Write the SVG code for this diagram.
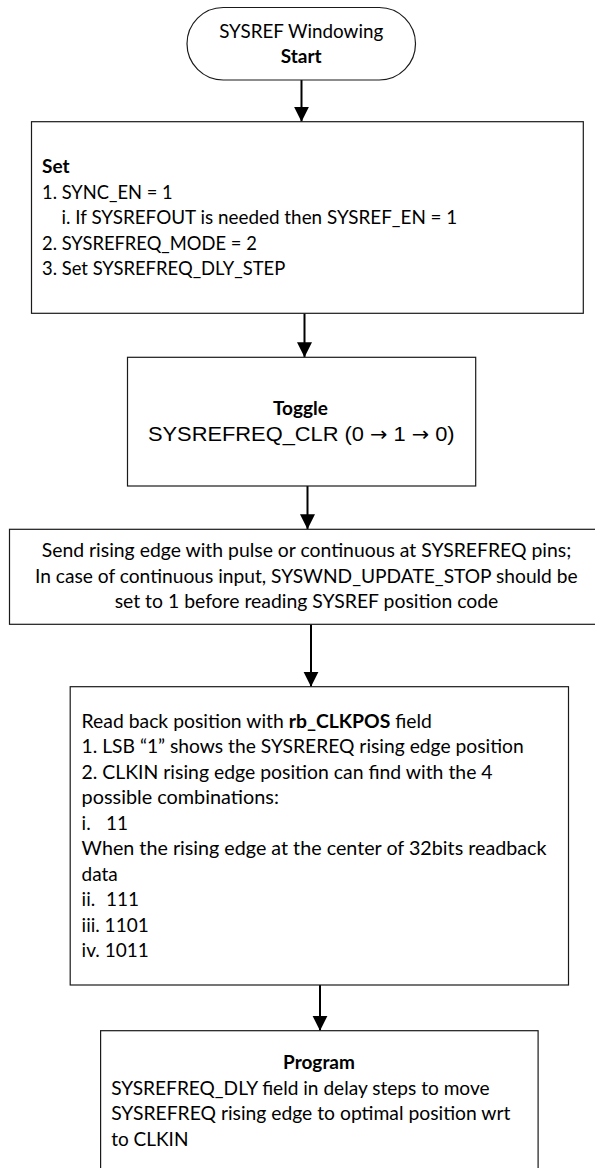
<svg xmlns="http://www.w3.org/2000/svg" width="595" height="1168" viewBox="0 0 595 1168">
<style>
.bg{fill:#fff}
.box{fill:#fff;stroke:#1a1a1a;stroke-width:1.2}
.t{font-family:Lato,"Open Sans","Liberation Sans",sans-serif;font-size:19px;fill:#000}
.b{font-weight:bold}
.c{text-anchor:middle}
.a{font-family:"Liberation Sans",Arial,sans-serif;font-size:21px;fill:#000}
.arr{font-family:"DejaVu Sans",sans-serif;font-size:20px}
.conn{stroke:#000;stroke-width:2;fill:none;marker-end:url(#ah)}
</style>
<defs>
<marker id="ah" markerUnits="userSpaceOnUse" markerWidth="16" markerHeight="16" refX="15" refY="7.5" orient="auto" viewBox="0 0 16 15">
<path d="M0,0 L15,7.5 L0,15 z" fill="#000"/>
</marker>
</defs>
<rect class="bg" x="0" y="0" width="595" height="1168"/>
<g id="connectors">
<line class="conn" x1="301.5" y1="80" x2="301.5" y2="121.7"/>
<line class="conn" x1="304.5" y1="313.3" x2="304.5" y2="357.3"/>
<line class="conn" x1="307.5" y1="486" x2="307.5" y2="529.3"/>
<line class="conn" x1="311" y1="624.3" x2="311" y2="686.7"/>
<line class="conn" x1="320" y1="985" x2="320" y2="1030.7"/>
</g>
<g id="start">
<rect class="box" x="187" y="7.5" width="228.5" height="72.5" rx="36.25"/>
<text class="t c" x="301.2" y="38.3" textLength="164" lengthAdjust="spacingAndGlyphs">SYSREF Windowing</text>
<text class="t b c" x="301.2" y="62.7">Start</text>
</g>
<g id="set">
<rect class="box" x="31.5" y="121.7" width="551.8" height="191.6"/>
<text class="t b" x="42" y="173">Set</text>
<text class="t" x="42" y="198.5" textLength="130.6" lengthAdjust="spacingAndGlyphs">1. SYNC_EN = 1</text>
<text class="t" x="61.5" y="224" textLength="395.8" lengthAdjust="spacingAndGlyphs">i. If SYSREFOUT is needed then SYSREF_EN = 1</text>
<text class="t" x="42" y="249.5" textLength="214.8" lengthAdjust="spacingAndGlyphs">2. SYSREFREQ_MODE = 2</text>
<text class="t" x="42" y="275" textLength="243.3" lengthAdjust="spacingAndGlyphs">3. Set SYSREFREQ_DLY_STEP</text>
</g>
<g id="toggle">
<rect class="box" x="127.5" y="357.3" width="348.2" height="128.7"/>
<text class="t b c" x="300.4" y="415">Toggle</text>
<text class="a c" x="301.3" y="440.7" textLength="306.6" lengthAdjust="spacingAndGlyphs">SYSREFREQ_CLR (0 <tspan class="arr">→</tspan> 1 <tspan class="arr">→</tspan> 0)</text>
</g>
<g id="send">
<rect class="box" x="9.5" y="529.3" width="600" height="95"/>
<text class="t c" x="306.5" y="557.3" textLength="529.5" lengthAdjust="spacingAndGlyphs">Send rising edge with pulse or continuous at SYSREFREQ pins;</text>
<text class="t c" x="306.3" y="582.5" textLength="542.7" lengthAdjust="spacingAndGlyphs">In case of continuous input, SYSWND_UPDATE_STOP should be</text>
<text class="t c" x="306.5" y="607.5" textLength="383.7" lengthAdjust="spacingAndGlyphs">set to 1 before reading SYSREF position code</text>
</g>
<g id="readback">
<rect class="box" x="70.2" y="686.7" width="498.3" height="298.3"/>
<text class="t" x="81.6" y="727.5" textLength="350.3" lengthAdjust="spacingAndGlyphs">Read back position with <tspan class="b">rb_CLKPOS</tspan> field</text>
<text class="t" x="81.6" y="753" textLength="442.1" lengthAdjust="spacingAndGlyphs">1. LSB “1” shows the SYSREREQ rising edge position</text>
<text class="t" x="81.6" y="778.5" textLength="411" lengthAdjust="spacingAndGlyphs">2. CLKIN rising edge position can find with the 4</text>
<text class="t" x="81.6" y="804" textLength="197.3" lengthAdjust="spacingAndGlyphs">possible combinations:</text>
<text class="t" x="81.6" y="829.5">i.<tspan x="106">11</tspan></text>
<text class="t" x="81.6" y="855" textLength="464.9" lengthAdjust="spacingAndGlyphs">When the rising edge at the center of 32bits readback</text>
<text class="t" x="81.6" y="880.5">data</text>
<text class="t" x="81.6" y="906">ii.<tspan x="106">111</tspan></text>
<text class="t" x="81.6" y="931.5">iii. 1101</text>
<text class="t" x="81.6" y="957">iv. 1011</text>
</g>
<g id="program">
<rect class="box" x="100.6" y="1030.7" width="437.5" height="150"/>
<text class="t b c" x="319" y="1069">Program</text>
<text class="t" x="111.2" y="1094.5" textLength="378.4" lengthAdjust="spacingAndGlyphs">SYSREFREQ_DLY field in delay steps to move</text>
<text class="t" x="111.2" y="1120" textLength="399.2" lengthAdjust="spacingAndGlyphs">SYSREFREQ rising edge to optimal position wrt</text>
<text class="t" x="111.2" y="1145.5">to CLKIN</text>
</g>
</svg>
